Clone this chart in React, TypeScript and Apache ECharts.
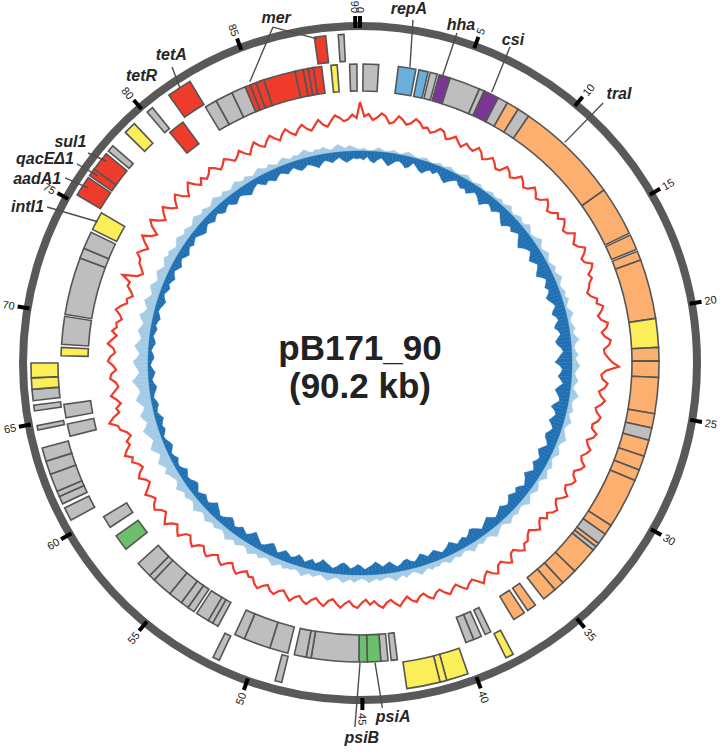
import React, { useEffect, useRef } from 'react';
import * as echarts from 'echarts';

// ---------------- DATA ----------------
const TOTAL_KB = 90.2;
const TICK_KB = [0, 5, 10, 15, 20, 25, 30, 35, 40, 45, 50, 55, 60, 65, 70, 75, 80, 85, 90];
const TICK_LABELS = TICK_KB.map((k) => String(k));
const WINDOW_KB = 0.25;

// GC content (%) per 0.25 kb window, starting at 0 kb (40 windows per 2 rows = 10 kb)
const gcPercent = [
  55.7, 50.9, 51.7, 49.8, 50.7, 52.2, 51.3, 49.1, 49.7, 51.9, 51.0, 49.6, 50.3, 52.1, 51.3, 49.8, 50.3, 48.9, 49.7, 51.2,
  50.7, 48.6, 49.3, 50.6, 49.3, 48.2, 50.0, 49.1, 48.7, 50.6, 49.7, 47.9, 48.7, 50.1, 49.0, 47.6, 48.0, 50.4, 49.7, 48.2,
  49.0, 50.9, 50.0, 48.6, 49.3, 51.2, 50.3, 48.9, 49.7, 51.6, 50.7, 49.0, 49.7, 51.4, 50.3, 52.0, 51.0, 49.4, 50.0, 52.3,
  51.3, 50.1, 51.0, 53.0, 52.0, 50.2, 50.7, 52.9, 52.0, 50.3, 51.0, 49.6, 49.0, 47.9, 48.7, 50.6, 50.0, 51.9, 51.0, 49.5,
  50.3, 52.4, 51.7, 49.9, 50.7, 52.6, 52.0, 50.1, 50.3, 51.4, 52.7, 55.0, 50.7, 49.2, 49.7, 51.5, 50.7, 48.9, 49.7, 51.3,
  50.3, 48.6, 49.3, 50.9, 50.3, 48.8, 49.0, 51.0, 50.3, 48.5, 49.3, 50.8, 50.0, 48.7, 49.3, 51.1, 50.3, 48.6, 49.0, 50.6,
  50.0, 48.4, 49.0, 50.8, 49.7, 48.2, 49.0, 50.7, 50.0, 48.6, 49.7, 47.8, 48.7, 50.4, 49.3, 47.9, 48.7, 50.2, 50.0, 51.8,
  50.7, 49.2, 49.7, 52.3, 51.3, 49.8, 50.3, 52.6, 51.7, 50.0, 51.0, 52.9, 51.3, 49.9, 50.7, 52.0, 50.7, 49.1, 50.0, 51.4,
  50.3, 48.7, 49.3, 50.9, 50.0, 48.4, 49.0, 50.5, 49.7, 48.1, 49.3, 50.8, 49.7, 48.3, 49.0, 50.6, 49.7, 48.2, 49.3, 47.6,
  48.7, 50.3, 49.7, 48.1, 49.0, 50.5, 49.3, 47.9, 48.7, 50.6, 49.7, 48.4, 49.3, 51.0, 50.3, 48.9, 49.7, 51.3, 50.0, 48.6,
  49.3, 50.9, 50.3, 48.8, 49.7, 51.2, 50.3, 48.6, 49.0, 47.7, 48.7, 50.2, 49.3, 47.8, 48.7, 50.4, 49.7, 48.3, 49.3, 51.0,
  50.3, 48.9, 49.7, 51.6, 50.7, 49.3, 50.0, 52.4, 51.3, 49.9, 51.0, 53.1, 51.7, 50.2, 51.0, 52.8, 52.0, 50.4, 51.3, 52.6,
  50.7, 49.2, 50.0, 51.8, 50.7, 48.9, 49.7, 51.5, 50.7, 52.9, 51.7, 50.1, 50.7, 48.8, 49.7, 51.6, 52.0, 54.6, 53.0, 50.6,
  51.3, 49.5, 50.7, 52.4, 51.0, 49.6, 50.3, 52.1, 51.7, 50.0, 51.0, 52.7, 52.0, 50.4, 51.0, 53.0, 51.7, 50.3, 52.0, 50.6,
  51.0, 49.4, 50.3, 52.0, 50.7, 48.8, 49.3, 47.6, 48.7, 50.3, 50.0, 53.1, 48.3, 46.9, 48.0, 49.4, 49.7, 51.5, 50.3, 48.9,
  51.0, 52.8, 50.0, 48.7, 51.7, 53.3, 50.7, 49.1, 51.0, 52.5, 50.0, 48.6, 50.7, 52.1, 49.7, 48.3, 50.3, 51.8, 49.7, 48.2,
  50.0, 48.5, 49.3, 50.8, 49.7, 48.1, 49.0, 50.4, 49.3, 47.9, 48.7, 50.1, 48.3, 47.2, 49.0, 50.3, 48.3, 47.4, 49.0, 50.2,
  48.7, 47.5, 49.3, 50.5, 48.7, 47.6, 49.3, 50.4, 48.7, 47.8, 49.3, 50.9, 49.0, 48.2, 50.0, 51.6, 50.7, 49.4, 50.0, 51.5,
  50.3,
];

// GC skew per 0.25 kb window: positive and negative envelopes (40 windows per row = 10 kb)
const skewPositive = [
  0.03, 0.06, 0.02, 0.0, 0.04, 0.08, 0.05, 0.02, 0.03, 0.07, 0.04, 0.01, 0.05, 0.09, 0.06, 0.03, 0.02, 0.05, 0.07, 0.03, 0.0, 0.04, 0.06, 0.03, 0.05, 0.08, 0.04, 0.02, 0.03, 0.06, 0.09, 0.05, 0.02, 0.04, 0.07, 0.03, 0.01, 0.05, 0.08, 0.04,
  0.05, 0.09, 0.04, 0.07, 0.12, 0.06, 0.03, 0.08, 0.11, 0.05, 0.07, 0.14, 0.09, 0.04, 0.06, 0.1, 0.16, 0.08, 0.05, 0.09, 0.13, 0.07, 0.04, 0.08, 0.12, 0.06, 0.1, 0.15, 0.09, 0.05, 0.07, 0.11, 0.06, 0.13, 0.08, 0.04, 0.09, 0.14, 0.07, 0.05,
  0.08, 0.12, 0.06, 0.1, 0.17, 0.09, 0.05, 0.08, 0.13, 0.07, 0.11, 0.16, 0.1, 0.06, 0.09, 0.14, 0.08, 0.05, 0.12, 0.18, 0.1, 0.07, 0.09, 0.13, 0.06, 0.1, 0.15, 0.09, 0.05, 0.08, 0.12, 0.16, 0.09, 0.06, 0.11, 0.14, 0.08, 0.05, 0.1, 0.13,
  0.07, 0.11, 0.15, 0.08, 0.05, 0.1, 0.14, 0.09, 0.06, 0.12, 0.17, 0.1, 0.07, 0.09, 0.13, 0.08, 0.11, 0.16, 0.1, 0.06, 0.09, 0.14, 0.18, 0.11, 0.07, 0.1, 0.13, 0.08, 0.12, 0.17, 0.1, 0.06, 0.09, 0.13, 0.08, 0.11, 0.15, 0.09, 0.07, 0.12,
  0.1, 0.14, 0.08, 0.12, 0.17, 0.11, 0.07, 0.1, 0.15, 0.09, 0.13, 0.18, 0.11, 0.08, 0.1, 0.14, 0.09, 0.12, 0.16, 0.1, 0.07, 0.11, 0.15, 0.09, 0.13, 0.17, 0.1, 0.08, 0.12, 0.16, 0.11, 0.07, 0.1, 0.14, 0.09, 0.13, 0.18, 0.11, 0.08, 0.12,
  0.11, 0.15, 0.09, 0.13, 0.18, 0.12, 0.08, 0.11, 0.16, 0.1, 0.14, 0.19, 0.12, 0.09, 0.13, 0.17, 0.11, 0.15, 0.2, 0.13, 0.09, 0.12, 0.16, 0.11, 0.14, 0.19, 0.13, 0.1, 0.15, 0.21, 0.14, 0.1, 0.13, 0.17, 0.12, 0.16, 0.22, 0.14, 0.11, 0.15,
  0.18, 0.24, 0.16, 0.21, 0.27, 0.2, 0.15, 0.22, 0.29, 0.23, 0.17, 0.21, 0.26, 0.31, 0.22, 0.18, 0.24, 0.28, 0.2, 0.16, 0.23, 0.3, 0.25, 0.19, 0.22, 0.27, 0.33, 0.24, 0.18, 0.21, 0.26, 0.3, 0.22, 0.17, 0.23, 0.28, 0.21, 0.16, 0.2, 0.25,
  0.2, 0.16, 0.22, 0.27, 0.19, 0.15, 0.21, 0.25, 0.18, 0.14, 0.19, 0.23, 0.17, 0.13, 0.18, 0.22, 0.16, 0.12, 0.17, 0.21, 0.15, 0.19, 0.14, 0.11, 0.16, 0.2, 0.15, 0.12, 0.17, 0.13, 0.1, 0.15, 0.19, 0.14, 0.11, 0.16, 0.12, 0.09, 0.14, 0.18,
  0.13, 0.1, 0.15, 0.11, 0.08, 0.13, 0.17, 0.12, 0.09, 0.14, 0.1, 0.07, 0.12, 0.16, 0.11, 0.08, 0.13, 0.09, 0.06, 0.11, 0.15, 0.1, 0.07, 0.12, 0.09, 0.13, 0.17, 0.11, 0.08, 0.12, 0.1, 0.14, 0.09, 0.06, 0.11, 0.15, 0.1, 0.07, 0.12, 0.08,
  0.05,
];
const skewNegative = [
  -0.14, -0.18, -0.11, -0.2, -0.23, -0.16, -0.12, -0.19, -0.26, -0.21, -0.15, -0.13, -0.17, -0.24, -0.2, -0.1, -0.16, -0.22, -0.25, -0.18, -0.14, -0.19, -0.12, -0.16, -0.23, -0.27, -0.2, -0.15, -0.11, -0.18, -0.21, -0.17, -0.24, -0.19, -0.13, -0.16, -0.22, -0.28, -0.2, -0.15,
  -0.18, -0.23, -0.17, -0.13, -0.2, -0.26, -0.3, -0.22, -0.18, -0.24, -0.19, -0.15, -0.22, -0.28, -0.33, -0.25, -0.2, -0.17, -0.23, -0.29, -0.24, -0.18, -0.21, -0.27, -0.31, -0.22, -0.16, -0.2, -0.25, -0.19, -0.23, -0.3, -0.26, -0.2, -0.17, -0.24, -0.28, -0.21, -0.18, -0.25,
  -0.29, -0.22, -0.19, -0.25, -0.31, -0.27, -0.2, -0.17, -0.23, -0.28, -0.34, -0.24, -0.19, -0.22, -0.27, -0.21, -0.16, -0.24, -0.3, -0.25, -0.2, -0.18, -0.26, -0.32, -0.23, -0.19, -0.24, -0.29, -0.22, -0.17, -0.21, -0.27, -0.25, -0.19, -0.15, -0.22, -0.28, -0.24, -0.18, -0.21,
  -0.26, -0.2, -0.16, -0.23, -0.29, -0.22, -0.18, -0.14, -0.21, -0.25, -0.19, -0.23, -0.27, -0.2, -0.15, -0.18, -0.24, -0.2, -0.16, -0.13, -0.19, -0.25, -0.21, -0.17, -0.12, -0.18, -0.23, -0.26, -0.19, -0.15, -0.2, -0.17, -0.13, -0.19, -0.24, -0.18, -0.14, -0.11, -0.17, -0.22,
  -0.18, -0.14, -0.2, -0.24, -0.17, -0.12, -0.15, -0.21, -0.19, -0.13, -0.1, -0.16, -0.22, -0.18, -0.14, -0.2, -0.25, -0.19, -0.15, -0.11, -0.17, -0.21, -0.16, -0.12, -0.18, -0.23, -0.2, -0.14, -0.1, -0.15, -0.19, -0.24, -0.17, -0.13, -0.2, -0.16, -0.11, -0.18, -0.22, -0.15,
  -0.12, -0.17, -0.21, -0.15, -0.1, -0.18, -0.24, -0.2, -0.14, -0.11, -0.16, -0.22, -0.27, -0.19, -0.13, -0.17, -0.21, -0.15, -0.12, -0.19, -0.23, -0.18, -0.13, -0.1, -0.16, -0.2, -0.25, -0.17, -0.12, -0.15, -0.19, -0.14, -0.1, -0.16, -0.21, -0.18, -0.13, -0.11, -0.15, -0.19,
  -0.12, -0.08, -0.1, -0.14, -0.09, -0.06, -0.11, -0.15, -0.12, -0.07, -0.05, -0.1, -0.13, -0.09, -0.12, -0.16, -0.11, -0.07, -0.09, -0.13, -0.1, -0.06, -0.08, -0.12, -0.15, -0.1, -0.07, -0.11, -0.14, -0.09, -0.05, -0.08, -0.12, -0.1, -0.06, -0.09, -0.13, -0.11, -0.07, -0.1,
  -0.13, -0.09, -0.11, -0.15, -0.12, -0.08, -0.1, -0.14, -0.17, -0.12, -0.09, -0.13, -0.16, -0.11, -0.14, -0.18, -0.13, -0.1, -0.15, -0.19, -0.14, -0.11, -0.16, -0.2, -0.15, -0.12, -0.17, -0.13, -0.1, -0.14, -0.18, -0.21, -0.16, -0.12, -0.15, -0.19, -0.14, -0.11, -0.17, -0.2,
  -0.15, -0.12, -0.18, -0.22, -0.17, -0.13, -0.16, -0.2, -0.24, -0.18, -0.14, -0.11, -0.17, -0.21, -0.16, -0.19, -0.23, -0.17, -0.13, -0.16, -0.2, -0.15, -0.12, -0.18, -0.22, -0.19, -0.14, -0.17, -0.21, -0.25, -0.18, -0.13, -0.16, -0.2, -0.15, -0.11, -0.17, -0.22, -0.18, -0.14,
  -0.16,
];

// genes: [start kb, end kb, row (i = inner, o = outer), class]
const genes: [number, number, string, string][] = [
  [88.2, 88.7, 'o', 'red'], [89.25, 89.5, 'o', 'gray'],
  [88.8, 89.1, 'i', 'yellow'], [89.7, 90.05, 'i', 'gray'], [0.15, 0.9, 'i', 'gray'],
  [1.85, 2.7, 'i', 'blue'], [2.85, 3.3, 'i', 'blue'], [3.4, 3.75, 'i', 'gray'],
  [3.85, 4.4, 'i', 'purple'], [4.4, 5.9, 'i', 'gray'], [5.9, 6.15, 'i', 'gray'],
  [6.15, 6.9, 'i', 'purple'], [6.9, 7.4, 'i', 'gray'], [7.4, 8.0, 'i', 'orange'],
  [8.0, 8.6, 'i', 'gray'], [8.6, 13.7, 'i', 'orange'], [13.7, 16.1, 'i', 'orange'],
  [16.2, 16.95, 'i', 'orange'], [17.05, 17.5, 'i', 'orange'], [17.5, 20.4, 'i', 'orange'],
  [20.4, 21.8, 'i', 'yellow'], [21.8, 22.45, 'i', 'orange'], [22.45, 23.25, 'i', 'orange'],
  [23.25, 25.0, 'i', 'orange'], [25.0, 25.7, 'i', 'orange'], [25.7, 26.3, 'i', 'gray'],
  [26.3, 27.1, 'i', 'orange'], [27.1, 27.8, 'i', 'orange'], [27.8, 28.35, 'i', 'orange'],
  [28.35, 30.8, 'i', 'orange'], [30.8, 31.3, 'i', 'orange'], [31.3, 31.85, 'i', 'gray'],
  [31.85, 32.05, 'i', 'orange'], [32.05, 32.25, 'i', 'gray'], [32.25, 33.6, 'i', 'orange'],
  [33.6, 34.4, 'i', 'orange'], [34.4, 34.9, 'i', 'orange'], [34.9, 35.6, 'i', 'orange'],
  [36.1, 36.55, 'i', 'orange'], [36.75, 37.35, 'i', 'orange'],
  [38.6, 38.9, 'i', 'gray'], [39.1, 39.5, 'i', 'gray'], [39.5, 39.9, 'i', 'gray'],
  [38.15, 38.5, 'o', 'yellow'], [40.3, 41.27, 'o', 'yellow'], [41.27, 41.57, 'o', 'yellow'], [41.57, 43.05, 'o', 'yellow'],
  [43.3, 43.6, 'i', 'gray'], [43.75, 44.1, 'i', 'gray'], [44.1, 44.75, 'i', 'green'], [44.75, 45.15, 'i', 'green'],
  [45.15, 47.46, 'i', 'gray'], [47.46, 47.7, 'i', 'gray'], [47.7, 48.28, 'i', 'gray'],
  [48.6, 49.5, 'i', 'gray'], [49.5, 50.8, 'i', 'gray'], [50.8, 51.3, 'i', 'gray'],
  [48.55, 48.85, 'o', 'gray'], [51.45, 51.75, 'o', 'gray'],
  [52.2, 52.5, 'i', 'gray'], [52.5, 52.75, 'i', 'gray'], [52.75, 53.4, 'i', 'gray'],
  [53.55, 53.9, 'i', 'gray'], [53.9, 54.3, 'i', 'gray'], [54.3, 55.0, 'i', 'gray'],
  [55.0, 56.0, 'i', 'gray'], [56.0, 56.3, 'i', 'gray'], [56.3, 57.1, 'i', 'gray'],
  [58.0, 58.8, 'i', 'green'], [59.3, 59.9, 'i', 'gray'],
  [60.5, 61.1, 'o', 'gray'], [61.3, 61.65, 'o', 'gray'], [61.65, 61.9, 'o', 'gray'],
  [61.9, 62.7, 'o', 'gray'], [62.7, 63.3, 'o', 'gray'], [63.3, 63.9, 'o', 'gray'],
  [64.1, 64.7, 'i', 'gray'], [64.7, 64.9, 'o', 'gray'], [65.0, 65.65, 'i', 'gray'], [65.55, 65.8, 'o', 'gray'],
  [66.0, 66.5, 'o', 'gray'], [66.5, 67.0, 'o', 'yellow'], [67.0, 67.65, 'o', 'yellow'],
  [68.0, 68.4, 'i', 'yellow'], [68.55, 69.9, 'i', 'gray'],
  [70.0, 72.8, 'i', 'gray'], [72.8, 73.3, 'i', 'gray'], [73.3, 74.15, 'i', 'gray'],
  [74.3, 75.2, 'i', 'yellow'],
  [75.35, 76.25, 'o', 'red'], [76.35, 76.7, 'o', 'red'], [76.7, 77.55, 'o', 'red'], [77.7, 78.0, 'o', 'gray'],
  [78.8, 79.35, 'o', 'yellow'], [80.1, 80.4, 'o', 'gray'], [80.3, 81.1, 'i', 'red'], [81.3, 82.4, 'o', 'red'],
  [82.4, 83.0, 'i', 'gray'], [83.0, 83.85, 'i', 'gray'], [83.85, 84.55, 'i', 'gray'],
  [84.55, 84.8, 'i', 'red'], [84.8, 85.1, 'i', 'red'], [85.1, 85.5, 'i', 'red'], [85.5, 87.05, 'i', 'red'],
  [87.05, 87.45, 'i', 'red'], [87.45, 87.7, 'i', 'red'], [87.7, 87.95, 'i', 'red'], [87.95, 88.35, 'i', 'red'],
];

const geneLabelNames = ['mer', 'repA', 'hha', 'csi', 'traI', 'psiA', 'psiB', 'tetA', 'tetR', 'sul1', 'qacEΔ1', 'aadA1', 'intI1'];
const TITLE_LINES = ['pB171_90', '(90.2 kb)'];

// ---------------- LAYOUT / STYLE ----------------
const CX = 360;
const CY = 363;
const RING_R = 337;
const ROW_RADII: Record<string, [number, number]> = { i: [272, 299], o: [302, 329] };
const ROW_KEYS = ['i', 'o'];
const CLASS_KEYS = ['gray', 'red', 'orange', 'yellow', 'blue', 'purple', 'green'];
const CLASS_COLORS = ['#bebebe', '#ee3b2b', '#fdaf70', '#fcee58', '#6aaedc', '#7b3595', '#6dbf6b'];
const FONT = '"Liberation Sans", Arial, Helvetica, sans-serif';
const SKEW_BASE_R = 212; // radius of the zero-skew circle (px units of the main polar)
const SKEW_PX = 50; // px per skew unit

// label placement in polar terms: text centre [r, kb]; pointer lines as lists of [r, kb]
const LABEL_LAYOUT: { pos: [number, number]; lines: [number, number][][] }[] = [
  { pos: [355.6, 86.78], lines: [[[347, 86.56], [302, 84.84]], [[347, 86.56], [327, 88.31]]] },
  { pos: [357.4, 1.97], lines: [[[347, 2.2], [300, 2.4]]] },
  { pos: [352.8, 4.17], lines: [[[344, 4.1], [297, 4.02]]] },
  { pos: [357.4, 6.35], lines: [[[350, 6.36], [301, 6.5]]] },
  { pos: [373.8, 10.99], lines: [[[356, 10.79], [301, 10.74]]] },
  { pos: [355.5, 43.76], lines: [[[345.6, 44.17], [300, 44.38]]] },
  { pos: [375, 45.03], lines: [[[364, 45.3], [300, 45.1]]] },
  { pos: [361.4, 82.31], lines: [[[350.7, 82.08], [329, 81.88]]] },
  { pos: [361.5, 80.88], lines: [] },
  { pos: [364.5, 77.02], lines: [[[343.6, 77.09], [324, 77.3]]] },
  { pos: [375.6, 75.92], lines: [[[346.3, 76.45], [322, 76.55]]] },
  { pos: [372.0, 75.12], lines: [[[348.2, 75.7], [323.4, 75.86]]] },
  { pos: [367.7, 73.98], lines: [[[349.7, 74.29], [298, 74.74]]] },
];

function buildOption() {
  const gcData = gcPercent.map((v, i) => [v, i * WINDOW_KB]);
  gcData.push([gcPercent[0], TOTAL_KB]);

  const skewItems = (arr: number[]) =>
    arr.map((v, i) => {
      const last = i + 1 >= arr.length;
      const nextKb = last ? TOTAL_KB : (i + 1) * WINDOW_KB;
      const nextV = last ? arr[0] : arr[i + 1];
      return [i * WINDOW_KB, v, nextKb, nextV];
    });

  const geneData = genes.map((g) => [g[0], g[1], ROW_KEYS.indexOf(g[2]), CLASS_KEYS.indexOf(g[3])]);

  const angleBase = (polarIndex: number, line?: any) => ({
    polarIndex,
    type: 'value',
    min: 0,
    max: TOTAL_KB,
    startAngle: 90,
    clockwise: true,
    axisLine: line ? { show: true, lineStyle: line } : { show: false },
    axisTick: { show: false },
    axisLabel: { show: false },
    splitLine: { show: false },
    splitArea: { show: false },
  });
  const radiusBase = (polarIndex: number, min: number, max: number) => ({
    polarIndex,
    type: 'value',
    min,
    max,
    show: false,
    splitLine: { show: false },
    axisLine: { show: false },
    axisTick: { show: false },
    axisLabel: { show: false },
  });

  const skewSeries = (arr: number[], color: string, name: string) => ({
    type: 'custom',
    name,
    coordinateSystem: 'polar',
    polarIndex: 0,
    encode: { angle: 0 },
    z: 2,
    data: skewItems(arr),
    renderItem: (params: any, api: any) => {
      const k0 = api.value(0);
      const v0 = api.value(1);
      const k1 = api.value(2);
      const v1 = api.value(3);
      if (v0 === 0 && v1 === 0) return null;
      const pts = [
        api.coord([SKEW_BASE_R, k0]),
        api.coord([SKEW_BASE_R + v0 * SKEW_PX, k0]),
        api.coord([SKEW_BASE_R + v1 * SKEW_PX, k1]),
        api.coord([SKEW_BASE_R, k1]),
      ].map((p: number[]) => [p[0], p[1]]);
      return {
        type: 'polygon',
        shape: { points: pts },
        style: { fill: color, stroke: color, lineWidth: 0.4 },
      };
    },
  });

  return {
    animation: false,
    backgroundColor: '#ffffff',
    polar: [
      { center: [CX, CY], radius: RING_R },
      { center: [CX, CY], radius: [184, 304] },
      { center: [CX, CY], radius: SKEW_BASE_R },
    ],
    angleAxis: [
      angleBase(0, { color: '#595959', width: 8 }),
      angleBase(1),
      angleBase(2, { color: '#a9d99c', width: 2 }),
    ],
    radiusAxis: [radiusBase(0, 0, RING_R), radiusBase(1, 30, 70), radiusBase(2, 0, 1)],
    series: [
      skewSeries(skewPositive, '#a3cbe6', 'GC skew +'),
      skewSeries(skewNegative, '#2070b4', 'GC skew -'),
      {
        type: 'line',
        name: 'GC content',
        coordinateSystem: 'polar',
        polarIndex: 1,
        data: gcData,
        showSymbol: false,
        symbol: 'none',
        z: 3,
        lineStyle: { color: '#ee3b2b', width: 2.2, join: 'miter' },
      },
      {
        type: 'custom',
        name: 'genes',
        coordinateSystem: 'polar',
        polarIndex: 0,
        encode: { angle: 0 },
        z: 4,
        data: geneData,
        renderItem: (params: any, api: any) => {
          const s = api.value(0);
          const e = api.value(1);
          const rows = ROW_RADII[ROW_KEYS[api.value(2)]];
          const color = CLASS_COLORS[api.value(3)];
          const c = api.coord([0, s]);
          const ps = api.coord([rows[1], s]);
          const pe = api.coord([rows[1], e]);
          const pi = api.coord([rows[0], s]);
          const r1 = Math.hypot(ps[0] - c[0], ps[1] - c[1]);
          const r0 = Math.hypot(pi[0] - c[0], pi[1] - c[1]);
          const a0 = Math.atan2(ps[1] - c[1], ps[0] - c[0]);
          let a1 = Math.atan2(pe[1] - c[1], pe[0] - c[0]);
          while (a1 <= a0) a1 += Math.PI * 2;
          return {
            type: 'sector',
            shape: { cx: c[0], cy: c[1], r0, r: r1, startAngle: a0, endAngle: a1, clockwise: true },
            style: { fill: color, stroke: '#555555', lineWidth: 1.6 },
          };
        },
      },
      {
        type: 'custom',
        name: 'ticks',
        coordinateSystem: 'polar',
        polarIndex: 0,
        encode: { angle: 0 },
        z: 5,
        data: TICK_KB.map((k, i) => [k, 0, i]),
        renderItem: (params: any, api: any) => {
          const k = api.value(0);
          const idx = api.value(2);
          const c = api.coord([0, k]);
          const p0 = api.coord([335, k]);
          const p1 = api.coord([347, k]);
          const pl = api.coord([350, k]);
          const phi = Math.atan2(-(pl[1] - c[1]), pl[0] - c[0]);
          const right = pl[0] >= c[0] - 0.01;
          return {
            type: 'group',
            children: [
              {
                type: 'line',
                shape: { x1: p0[0], y1: p0[1], x2: p1[0], y2: p1[1] },
                style: { stroke: '#000000', lineWidth: 4 },
              },
              {
                type: 'text',
                x: pl[0],
                y: pl[1],
                rotation: right ? phi : phi - Math.PI,
                style: {
                  text: TICK_LABELS[idx],
                  fill: '#222222',
                  fontSize: 11,
                  fontFamily: FONT,
                  align: right ? 'left' : 'right',
                  verticalAlign: 'middle',
                },
              },
            ],
          };
        },
      },
      {
        type: 'custom',
        name: 'gene labels',
        coordinateSystem: 'polar',
        polarIndex: 0,
        encode: { angle: 0 },
        z: 6,
        data: LABEL_LAYOUT.map((l, i) => [l.pos[1], l.pos[0], i]),
        renderItem: (params: any, api: any) => {
          const i = api.value(2);
          const lay = LABEL_LAYOUT[i];
          const p = api.coord([lay.pos[0], lay.pos[1]]);
          const children: any[] = lay.lines.map((ln) => ({
            type: 'polyline',
            shape: { points: ln.map((q) => { const t = api.coord([q[0], q[1]]); return [t[0], t[1]]; }) },
            style: { stroke: '#4d4d4d', lineWidth: 1.4, fill: null },
          }));
          children.push({
            type: 'text',
            x: p[0],
            y: p[1],
            style: {
              text: geneLabelNames[i],
              fill: '#262626',
              fontSize: 16,
              fontWeight: 'bold',
              fontStyle: 'italic',
              fontFamily: FONT,
              align: 'center',
              verticalAlign: 'middle',
            },
          });
          return { type: 'group', children };
        },
      },
    ],
    graphic: [
      {
        type: 'text',
        x: CX,
        y: 347,
        style: {
          text: TITLE_LINES[0],
          fill: '#222222',
          fontSize: 35,
          fontWeight: 'bold',
          fontFamily: FONT,
          align: 'center',
          verticalAlign: 'middle',
        },
      },
      {
        type: 'text',
        x: CX,
        y: 385,
        style: {
          text: TITLE_LINES[1],
          fill: '#222222',
          fontSize: 35,
          fontWeight: 'bold',
          fontFamily: FONT,
          align: 'center',
          verticalAlign: 'middle',
        },
      },
    ],
  };
}

export default function App() {
  const ref = useRef<HTMLDivElement>(null);
  useEffect(() => {
    if (!ref.current) return;
    const chart = echarts.init(ref.current, undefined, { renderer: 'svg' });
    chart.setOption(buildOption() as any);
    return () => chart.dispose();
  }, []);
  return (
    <div
      ref={ref}
      style={{ position: 'absolute', left: 0, top: 0, width: 720, height: 752, background: '#ffffff' }}
    />
  );
}
